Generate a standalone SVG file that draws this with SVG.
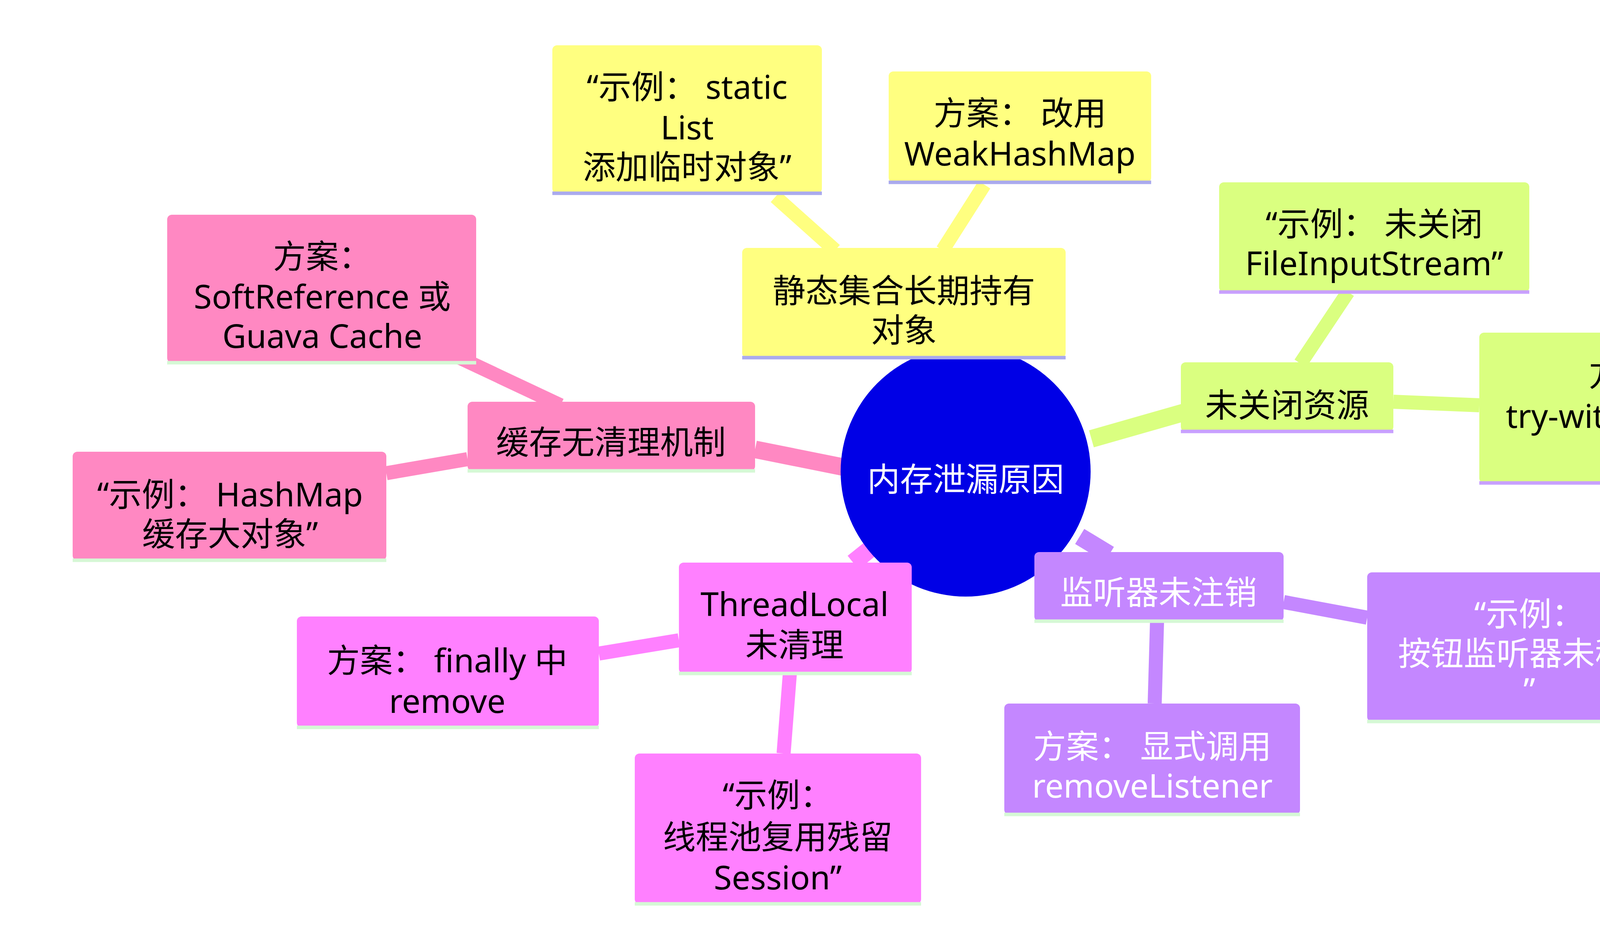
<svg xmlns="http://www.w3.org/2000/svg" width="4764" height="2423" viewBox="0 0 4764 2423">
<style>
text{font-family:"Noto Sans","Noto Sans CJK SC",sans-serif;font-size:84px;text-anchor:middle;dominant-baseline:central;fill:#000}
.w{fill:#fff}
rect{rx:12px;ry:12px}
.y{fill:#ffff80}.g{fill:#daff80}.p{fill:#c487ff}.m{fill:#ff80ff}.k{fill:#ff88c2}
.by{stroke:#aaaaee;stroke-width:9}.bg{stroke:#c8a0ff;stroke-width:9}.bo{stroke:#d5f8d5;stroke-width:9}
.e{fill:none;stroke-linecap:butt}
</style>
<g id="connectors">
<g class="e" stroke="#ffff80" stroke-width="36"><line x1="2138" y1="641" x2="1985" y2="504"/><line x1="2413" y1="641" x2="2520" y2="473"/></g>
<g class="e" stroke="#daff80"><line x1="2794" y1="1124" x2="3039" y2="1054" stroke-width="45"/><line x1="3329" y1="931" x2="3451" y2="748" stroke-width="36"/><line x1="3567" y1="1029" x2="3787" y2="1038" stroke-width="36"/></g>
<g class="e" stroke="#c487ff"><line x1="2764" y1="1374" x2="2840" y2="1420" stroke-width="45"/><line x1="3286" y1="1542" x2="3500" y2="1582" stroke-width="36"/><line x1="2962" y1="1591" x2="2956" y2="1802" stroke-width="36"/></g>
<g class="e" stroke="#ff80ff"><line x1="2229" y1="1405" x2="2184" y2="1441" stroke-width="45"/><line x1="1738" y1="1640" x2="1533" y2="1674" stroke-width="36"/><line x1="2022" y1="1725" x2="2006" y2="1930" stroke-width="36"/></g>
<g class="e" stroke="#ff88c2"><line x1="2162" y1="1197" x2="1933" y2="1151" stroke-width="45"/><line x1="1435" y1="1038" x2="1176" y2="916" stroke-width="36"/><line x1="1197" y1="1176" x2="989" y2="1212" stroke-width="36"/></g>
</g>
<g id="root"><circle cx="2472" cy="1208" r="320" fill="#0000e6"/><text class="w" x="2472" y="1225">内存泄漏原因</text></g>
<g id="n1"><rect class="y" x="1900" y="635" width="828" height="281"/><line class="by" x1="1900" y1="916" x2="2728" y2="916"/><text x="2314" y="742">静态集合长期持有</text><text x="2314" y="843">对象</text></g>
<g id="n1a"><rect class="y" x="1414" y="116" width="690" height="379"/><line class="by" x1="1414" y1="495" x2="2104" y2="495"/><text x="1759" y="220">“示例： static</text><text x="1759" y="324">List</text><text x="1759" y="425">添加临时对象”</text></g>
<g id="n1b"><rect class="y" x="2275" y="183" width="672" height="284"/><line class="by" x1="2275" y1="467" x2="2947" y2="467"/><text x="2611" y="287">方案： 改用</text><text x="2611" y="391">WeakHashMap</text></g>
<g id="n2"><rect class="g" x="3023" y="928" width="544" height="177"/><line class="bg" x1="3023" y1="1105" x2="3567" y2="1105"/><text x="3295" y="1035">未关闭资源</text></g>
<g id="n2a"><rect class="g" x="3121" y="467" width="794" height="281"/><line class="bg" x1="3121" y1="748" x2="3915" y2="748"/><text x="3518" y="571">“示例： 未关闭</text><text x="3518" y="672">FileInputStream”</text></g>
<g id="n2b"><rect class="g" x="3787" y="852" width="812" height="385"/><line class="bg" x1="3787" y1="1237" x2="4599" y2="1237"/><text x="4193" y="956">方案：</text><text x="4193" y="1063">try-with-resource</text><text x="4193" y="1167">s</text></g>
<g id="n3"><rect class="p" x="2648" y="1414" width="638" height="177"/><line class="bo" x1="2648" y1="1591" x2="3286" y2="1591"/><text class="w" x="2966" y="1515">监听器未注销</text></g>
<g id="n3a"><rect class="p" x="3500" y="1466" width="831" height="382"/><line class="bo" x1="3500" y1="1848" x2="4331" y2="1848"/><text class="w" x="3915" y="1570">“示例：</text><text class="w" x="3915" y="1671">按钮监听器未移除</text><text class="w" x="3915" y="1765">”</text></g>
<g id="n3b"><rect class="p" x="2571" y="1802" width="757" height="284"/><line class="bo" x1="2571" y1="2086" x2="3328" y2="2086"/><text class="w" x="2950" y="1909">方案： 显式调用</text><text class="w" x="2950" y="2010">removeListener</text></g>
<g id="n4"><rect class="m" x="1738" y="1441" width="596" height="284"/><line class="bo" x1="1738" y1="1725" x2="2334" y2="1725"/><text x="2034" y="1545">ThreadLocal</text><text x="2034" y="1649">未清理</text></g>
<g id="n4a"><rect class="m" x="760" y="1579" width="773" height="284"/><line class="bo" x1="760" y1="1863" x2="1533" y2="1863"/><text x="1145" y="1689">方案： finally 中</text><text x="1145" y="1793">remove</text></g>
<g id="n4b"><rect class="m" x="1625" y="1930" width="733" height="385"/><line class="bo" x1="1625" y1="2315" x2="2358" y2="2315"/><text x="1991" y="2034">“示例：</text><text x="1991" y="2141">线程池复用残留</text><text x="1991" y="2245">Session”</text></g>
<g id="n5"><rect class="k" x="1197" y="1029" width="736" height="177"/><line class="bo" x1="1197" y1="1206" x2="1933" y2="1206"/><text x="1564" y="1130">缓存无清理机制</text></g>
<g id="n5a"><rect class="k" x="428" y="550" width="791" height="379"/><line class="bo" x1="428" y1="929" x2="1219" y2="929"/><text x="825" y="654">方案：</text><text x="825" y="757">SoftReference 或</text><text x="825" y="858">Guava Cache</text></g>
<g id="n5b"><rect class="k" x="186" y="1157" width="803" height="278"/><line class="bo" x1="186" y1="1435" x2="989" y2="1435"/><text x="589" y="1264">“示例： HashMap</text><text x="589" y="1365">缓存大对象”</text></g>
</svg>
